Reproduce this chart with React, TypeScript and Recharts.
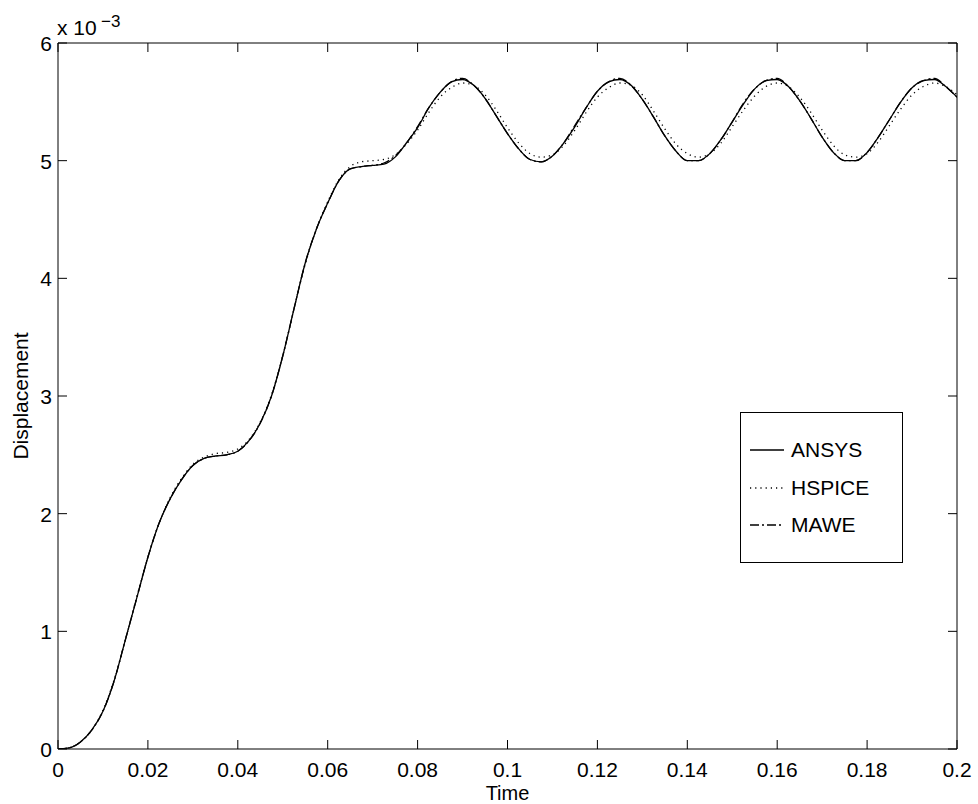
import React from 'react';
import { LineChart, Line, XAxis, YAxis, ReferenceLine } from 'recharts';

// ---- data (displacement in units of 1e-3) ----
const TIME = [
  0, 0.0025, 0.005, 0.0075, 0.01, 0.0125, 0.015, 0.0175, 0.02, 0.0225,
  0.025, 0.0275, 0.03, 0.0325, 0.035, 0.0375, 0.04, 0.0425, 0.045, 0.0475,
  0.05, 0.0525, 0.055, 0.0575, 0.06, 0.0625, 0.065, 0.0675, 0.07, 0.0725,
  0.075, 0.0775, 0.08, 0.0825, 0.085, 0.0875, 0.09, 0.0925, 0.095, 0.0975,
  0.1, 0.1025, 0.105, 0.1075, 0.11, 0.1125, 0.115, 0.1175, 0.12, 0.1225,
  0.125, 0.1275, 0.13, 0.1325, 0.135, 0.1375, 0.14, 0.1425, 0.145, 0.1475,
  0.15, 0.1525, 0.155, 0.1575, 0.16, 0.1625, 0.165, 0.1675, 0.17, 0.1725,
  0.175, 0.1775, 0.18, 0.1825, 0.185, 0.1875, 0.19, 0.1925, 0.195, 0.1975,
  0.2,
];

const ANSYS = [
  0, 0.01, 0.06, 0.16, 0.32, 0.58, 0.93, 1.28, 1.63, 1.92,
  2.13, 2.29, 2.41, 2.47, 2.49, 2.50, 2.53, 2.62, 2.77, 3.00,
  3.34, 3.74, 4.13, 4.42, 4.64, 4.83, 4.93, 4.95, 4.96, 4.97,
  5.03, 5.15, 5.28, 5.45, 5.58, 5.67, 5.69, 5.64, 5.53, 5.38,
  5.23, 5.10, 5.01, 4.99, 5.04, 5.15, 5.29, 5.45, 5.59, 5.67,
  5.69, 5.64, 5.52, 5.37, 5.21, 5.08, 5.00, 5.00, 5.06, 5.18,
  5.33, 5.48, 5.61, 5.68, 5.69, 5.63, 5.51, 5.36, 5.20, 5.07,
  5.00, 5.00, 5.07, 5.20, 5.35, 5.50, 5.62, 5.68, 5.69, 5.63,
  5.54,
];

const HSPICE = [
  0, 0.01, 0.06, 0.16, 0.33, 0.59, 0.93, 1.29, 1.63, 1.92,
  2.14, 2.30, 2.42, 2.48, 2.51, 2.52, 2.55, 2.63, 2.78, 3.01,
  3.34, 3.74, 4.12, 4.42, 4.65, 4.84, 4.95, 4.99, 5.00, 5.01,
  5.05, 5.14, 5.26, 5.41, 5.54, 5.62, 5.66, 5.64, 5.56, 5.43,
  5.28, 5.15, 5.06, 5.03, 5.05, 5.13, 5.26, 5.41, 5.54, 5.62,
  5.66, 5.64, 5.56, 5.42, 5.27, 5.14, 5.06, 5.03, 5.06, 5.15,
  5.29, 5.43, 5.55, 5.63, 5.66, 5.63, 5.54, 5.41, 5.26, 5.13,
  5.05, 5.03, 5.06, 5.16, 5.30, 5.44, 5.56, 5.63, 5.66, 5.63,
  5.56,
];

const MAWE = [
  0, 0.01, 0.06, 0.16, 0.32, 0.58, 0.93, 1.28, 1.63, 1.92,
  2.13, 2.29, 2.41, 2.47, 2.49, 2.50, 2.53, 2.62, 2.77, 3.00,
  3.34, 3.74, 4.13, 4.42, 4.64, 4.83, 4.93, 4.95, 4.96, 4.98,
  5.04, 5.15, 5.29, 5.45, 5.58, 5.67, 5.70, 5.64, 5.53, 5.38,
  5.23, 5.10, 5.01, 4.99, 5.04, 5.15, 5.30, 5.45, 5.59, 5.67,
  5.70, 5.64, 5.52, 5.37, 5.21, 5.08, 5.00, 5.00, 5.06, 5.18,
  5.33, 5.49, 5.61, 5.68, 5.70, 5.63, 5.51, 5.36, 5.20, 5.07,
  5.00, 5.00, 5.07, 5.20, 5.35, 5.50, 5.62, 5.68, 5.70, 5.63,
  5.54,
];

const X_TICKS = [0, 0.02, 0.04, 0.06, 0.08, 0.1, 0.12, 0.14, 0.16, 0.18, 0.2];
const Y_TICKS = [0, 1, 2, 3, 4, 5, 6];

const SERIES = [
  { key: 'ANSYS', dash: undefined as string | undefined },
  { key: 'HSPICE', dash: '1.2 4' },
  { key: 'MAWE', dash: '9 3 2 3' },
];

const data = TIME.map((t, i) => ({
  t,
  ANSYS: ANSYS[i],
  HSPICE: HSPICE[i],
  MAWE: MAWE[i],
}));

// ---- layout ----
const W = 978;
const H = 804;
const PLOT = { left: 58, right: 957, top: 43, bottom: 749 };
const FONT = '"Liberation Sans", Arial, Helvetica, sans-serif';
const FS = 21;
const TICK_LEN = 9;
const XAXIS_H = 30;
const YAXIS_W = 40;

const fmtX = (v: number) => String(Number(v.toFixed(2)));

const XTick = (props: any) => {
  const { x, payload } = props;
  return (
    <g>
      <line x1={x} y1={PLOT.bottom} x2={x} y2={PLOT.bottom - TICK_LEN} stroke="#000" strokeWidth={1} />
      <line x1={x} y1={PLOT.top} x2={x} y2={PLOT.top + TICK_LEN} stroke="#000" strokeWidth={1} />
      <text x={x} y={PLOT.bottom + 28} textAnchor="middle" fontFamily={FONT} fontSize={FS} fill="#000">
        {fmtX(payload.value)}
      </text>
    </g>
  );
};

const YTick = (props: any) => {
  const { y, payload } = props;
  return (
    <g>
      <line x1={PLOT.left} y1={y} x2={PLOT.left + TICK_LEN} y2={y} stroke="#000" strokeWidth={1} />
      <line x1={PLOT.right} y1={y} x2={PLOT.right - TICK_LEN} y2={y} stroke="#000" strokeWidth={1} />
      <text x={PLOT.left - 6} y={y + 8} textAnchor="end" fontFamily={FONT} fontSize={FS} fill="#000">
        {String(payload.value)}
      </text>
    </g>
  );
};

const XLabel = () => (
  <text x={(PLOT.left + PLOT.right) / 2} y={800} textAnchor="middle" fontFamily={FONT} fontSize={20} fill="#000">
    Time
  </text>
);

const YLabel = () => {
  const cx = 28;
  const cy = (PLOT.top + PLOT.bottom) / 2;
  return (
    <text
      x={cx}
      y={cy}
      transform={`rotate(-90 ${cx} ${cy})`}
      textAnchor="middle"
      fontFamily={FONT}
      fontSize={FS}
      fill="#000"
    >
      Displacement
    </text>
  );
};

const LegendBox = () => (
  <div
    style={{
      position: 'absolute',
      left: 740,
      top: 412,
      width: 163,
      height: 151,
      border: '1px solid #000',
      background: '#fff',
      boxSizing: 'border-box',
      fontFamily: FONT,
      fontSize: FS,
      color: '#000',
    }}
  >
    {SERIES.map((s, i) => (
      <div
        key={s.key}
        style={{ position: 'absolute', left: 8, top: 23 + i * 37.5, height: 28, display: 'flex', alignItems: 'center' }}
      >
        <svg width={36} height={28} style={{ display: 'block' }}>
          <line x1={1} y1={14} x2={35} y2={14} stroke="#000" strokeWidth={1.3} strokeDasharray={s.dash} />
        </svg>
        <span style={{ marginLeft: 6, lineHeight: '28px' }}>{s.key}</span>
      </div>
    ))}
  </div>
);

export default function App() {
  return (
    <div style={{ position: 'absolute', left: 0, top: 0, width: W, height: H, background: '#fff' }}>
      <LineChart
        width={W}
        height={H}
        data={data}
        margin={{
          top: PLOT.top,
          right: W - PLOT.right,
          bottom: H - PLOT.bottom - XAXIS_H,
          left: PLOT.left - YAXIS_W,
        }}
      >
        <XAxis
          dataKey="t"
          type="number"
          domain={[0, 0.2]}
          ticks={X_TICKS}
          interval={0}
          allowDataOverflow
          height={XAXIS_H}
          tickLine={false}
          tickSize={0}
          tickMargin={0}
          tick={<XTick />}
          axisLine={{ stroke: '#000', strokeWidth: 1 }}
          label={<XLabel />}
        />
        <YAxis
          type="number"
          domain={[0, 6]}
          ticks={Y_TICKS}
          interval={0}
          allowDataOverflow
          width={YAXIS_W}
          tickLine={false}
          tickSize={0}
          tickMargin={0}
          tick={<YTick />}
          axisLine={{ stroke: '#000', strokeWidth: 1 }}
          label={<YLabel />}
        />
        <ReferenceLine y={6} stroke="#000" strokeWidth={1} />
        <ReferenceLine x={0.2} stroke="#000" strokeWidth={1} />
        {SERIES.map((s) => (
          <Line
            key={s.key}
            dataKey={s.key}
            type="monotone"
            stroke="#000"
            strokeWidth={1.3}
            strokeDasharray={s.dash}
            dot={false}
            activeDot={false}
            isAnimationActive={false}
          />
        ))}
      </LineChart>
      <LegendBox />
      <svg
        width={200}
        height={45}
        style={{ position: 'absolute', left: 0, top: 0, pointerEvents: 'none' }}
      >
        <text x={57} y={35} fontFamily={FONT} fontSize={FS} fill="#000">x 10</text>
        <text x={101} y={27} fontFamily={FONT} fontSize={17} fill="#000">−3</text>
      </svg>
    </div>
  );
}
